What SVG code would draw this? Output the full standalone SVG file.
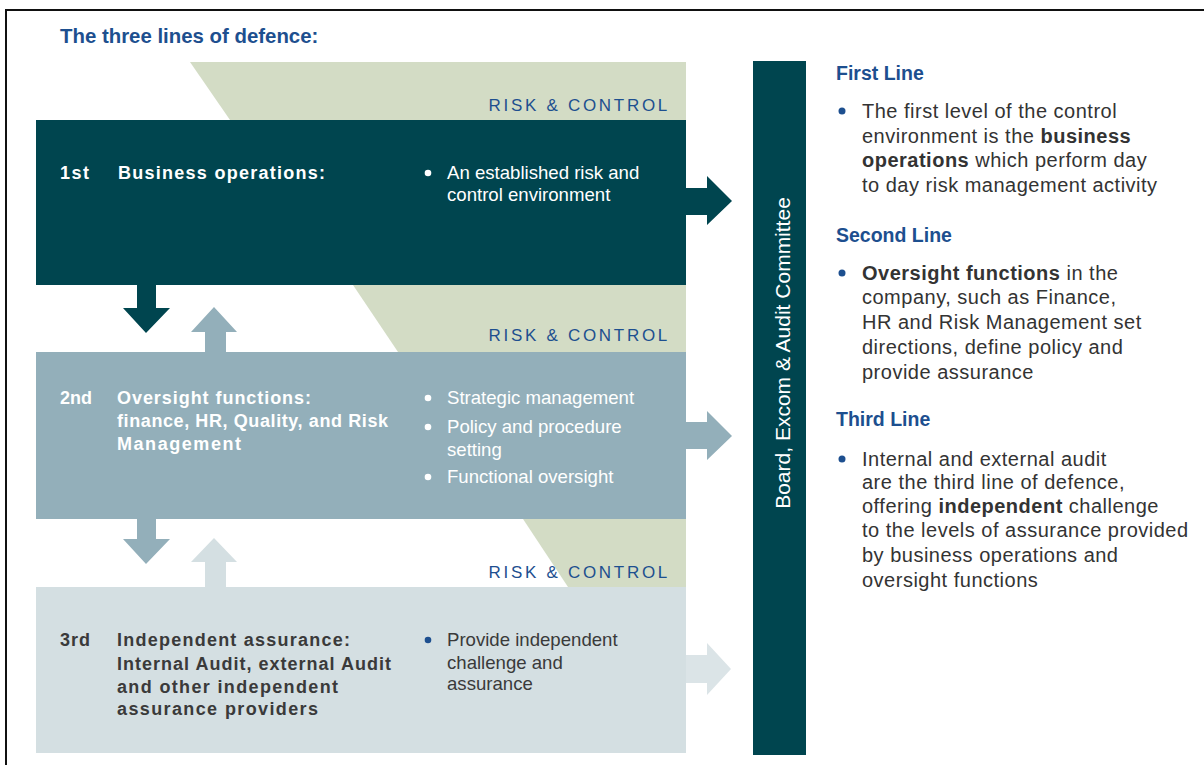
<svg xmlns="http://www.w3.org/2000/svg" width="1204" height="765" viewBox="0 0 1204 765">
<style>
text{font-family:"Liberation Sans",Arial,sans-serif}
.title{font-size:20.4px;font-weight:bold;fill:#1d4f8f}
.rc{font-size:17px;fill:#1d4f8f;letter-spacing:2.7px;text-anchor:end}
.lb{font-size:18px;font-weight:bold}
.lr{font-size:18.6px}
.w{fill:#ffffff}
.g{fill:#3a3a3a}
.hd{font-size:19.5px;font-weight:bold;fill:#1d4f8f}
.tx{font-size:20px;fill:#333333;letter-spacing:0.5px}
.b{font-weight:bold}
.green{fill:#d3dcc5}
.dark{fill:#00454f}
.mid{fill:#93afba}
.light{fill:#d4dfe2}
</style>
<rect x="6" y="10" width="1210" height="770" fill="#ffffff" stroke="#111111" stroke-width="2"/>
<text class="title" x="60" y="43">The three lines of defence:</text>

<g id="bands">
<polygon class="green" points="190,62 686,62 686,120 230,120"/>
<polygon class="green" points="353,285 686,285 686,352 398,352"/>
<polygon class="green" points="523,519 686,519 686,587 568,587"/>
</g>

<g id="labels">
<text class="rc" x="670" y="111">RISK &amp; CONTROL</text>
<text class="rc" x="670" y="341">RISK &amp; CONTROL</text>
<text class="rc" x="670" y="578">RISK &amp; CONTROL</text>
</g>

<g id="connectors">
<polygon class="dark" points="686,188 707,188 707,176 732,201 707,225 707,215 686,215"/>
<polygon class="mid" points="686,422 707,422 707,411 732,436 707,460 707,449 686,449"/>
<polygon fill="#dbe4e7" points="686,655 707,655 707,643 731,669 707,695 707,683 686,683"/>
<polygon class="dark" points="137,285 156,285 156,308 170,308 146,333 123,308 137,308"/>
<polygon class="mid" points="205,352 226,352 226,332 237,332 214,307 191,332 205,332"/>
<polygon class="mid" points="137,519 156,519 156,539 170,539 146,564 123,539 137,539"/>
<polygon class="light" points="205,587 226,587 226,562 237,562 214,538 191,562 205,562"/>
</g>

<g id="first">
<rect class="dark" x="36" y="120" width="650" height="165"/>
<text class="lb w" x="60" y="179" textLength="29" lengthAdjust="spacing">1st</text>
<text class="lb w" x="118" y="179" textLength="207" lengthAdjust="spacing">Business operations:</text>
<circle class="w" cx="428" cy="173" r="3.3"/>
<text class="lr w" x="447" y="179">An established risk and</text>
<text class="lr w" x="447" y="201">control environment</text>
</g>

<g id="second">
<rect class="mid" x="36" y="352" width="650" height="167"/>
<text class="lb w" x="60" y="404" textLength="32" lengthAdjust="spacing">2nd</text>
<text class="lb w" x="117" y="404" textLength="194" lengthAdjust="spacing">Oversight functions:</text>
<text class="lb w" x="117" y="427" textLength="271" lengthAdjust="spacing">finance, HR, Quality, and Risk</text>
<text class="lb w" x="117" y="450" textLength="124" lengthAdjust="spacing">Management</text>
<circle class="w" cx="428" cy="398" r="3.3"/>
<text class="lr w" x="447" y="404">Strategic management</text>
<circle class="w" cx="428" cy="427" r="3.3"/>
<text class="lr w" x="447" y="433">Policy and procedure</text>
<text class="lr w" x="447" y="456">setting</text>
<circle class="w" cx="428" cy="477" r="3.3"/>
<text class="lr w" x="447" y="483">Functional oversight</text>
</g>

<g id="third">
<rect class="light" x="36" y="587" width="650" height="166"/>
<text class="lb g" x="60" y="646" textLength="30" lengthAdjust="spacing">3rd</text>
<text class="lb g" x="117" y="646" textLength="233" lengthAdjust="spacing">Independent assurance:</text>
<text class="lb g" x="117" y="670" textLength="274" lengthAdjust="spacing">Internal Audit, external Audit</text>
<text class="lb g" x="117" y="693" textLength="221" lengthAdjust="spacing">and other independent</text>
<text class="lb g" x="117" y="715" textLength="201" lengthAdjust="spacing">assurance providers</text>
<circle fill="#1d4f8f" cx="428" cy="640" r="3.3"/>
<text class="lr g" x="447" y="646">Provide independent</text>
<text class="lr g" x="447" y="669">challenge and</text>
<text class="lr g" x="447" y="690">assurance</text>
</g>

<g id="board">
<rect class="dark" x="753" y="61" width="53" height="694"/>
<text transform="translate(790,353) rotate(-90)" text-anchor="middle" style="font-size:21px;fill:#ffffff">Board, Excom &amp; Audit Committee</text>
</g>

<g id="notes">
<text class="hd" x="836" y="80">First Line</text>
<circle fill="#1d4f8f" cx="842" cy="111" r="3.5"/>
<text class="tx" x="862" y="118">The first level of the control</text>
<text class="tx" x="862" y="143">environment is the <tspan class="b">business</tspan></text>
<text class="tx" x="862" y="167"><tspan class="b">operations</tspan> which perform day</text>
<text class="tx" x="862" y="192">to day risk management activity</text>

<text class="hd" x="836" y="242">Second Line</text>
<circle fill="#1d4f8f" cx="842" cy="273" r="3.5"/>
<text class="tx" x="862" y="280"><tspan class="b">Oversight functions</tspan> in the</text>
<text class="tx" x="862" y="304">company, such as Finance,</text>
<text class="tx" x="862" y="329">HR and Risk Management set</text>
<text class="tx" x="862" y="354">directions, define policy and</text>
<text class="tx" x="862" y="379">provide assurance</text>

<text class="hd" x="836" y="426">Third Line</text>
<circle fill="#1d4f8f" cx="842" cy="459" r="3.5"/>
<text class="tx" x="862" y="466">Internal and external audit</text>
<text class="tx" x="862" y="489">are the third line of defence,</text>
<text class="tx" x="862" y="513">offering <tspan class="b">independent</tspan> challenge</text>
<text class="tx" x="862" y="537">to the levels of assurance provided</text>
<text class="tx" x="862" y="562">by business operations and</text>
<text class="tx" x="862" y="587">oversight functions</text>
</g>
</svg>
